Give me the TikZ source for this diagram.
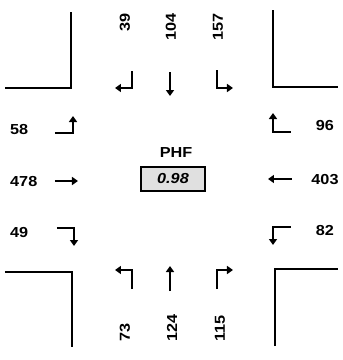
\documentclass[tikz,border=0pt]{standalone}
\usepackage{fontspec}
\setmainfont{Liberation Sans}[FakeStretch=1.12]
\usetikzlibrary{arrows.meta}
\begin{document}
\begin{tikzpicture}[x=1pt,y=-1pt,
  num/.style={font=\fontsize{14.5}{16}\selectfont\bfseries, inner sep=0pt},
  mv/.style={line width=2.2pt, -{Triangle[length=6pt,width=8pt]}},
  curb/.style={line width=2.6pt},
  phfbox/.style={draw, line width=1.4pt, fill=black!12, minimum width=64pt, minimum height=24pt, inner sep=0pt}]
\useasboundingbox (0,0) rectangle (343,360);
% corners
\draw[curb] (71,12) -- (71,88) -- (5,88);
\draw[curb] (273,10) -- (273,87) -- (338,87);
\draw[curb] (5,272) -- (72,272) -- (72,347);
\draw[curb] (275,346) -- (275,269) -- (338,269);
% southbound (top)
\node[num, rotate=90, anchor=east] (sl) at (125,13) {39};
\node[num, rotate=90, anchor=east] (st) at (171,13) {104};
\node[num, rotate=90, anchor=east] (sr) at (218,13) {157};
\draw[mv] (132,71) -- (132,88) -- (115,88);
\draw[mv] (170,72) -- (170,96);
\draw[mv] (217,70) -- (217,88) -- (233,88);
% northbound (bottom)
\node[num, rotate=90, anchor=west] (nl) at (125,342) {73};
\node[num, rotate=90, anchor=west] (nt) at (172,342) {124};
\node[num, rotate=90, anchor=west] (nr) at (220,342) {115};
\draw[mv] (132,289) -- (132,270) -- (115,270);
\draw[mv] (170,291) -- (170,266);
\draw[mv] (217,289) -- (217,270) -- (233,270);
% eastbound (left)
\node[num, anchor=west] (el) at (10,130) {58};
\node[num, anchor=west] (et) at (10,181.5) {478};
\node[num, anchor=west] (er) at (10,233) {49};
\draw[mv] (55,133) -- (73,133) -- (73,116);
\draw[mv] (55,181) -- (78,181);
\draw[mv] (57,228) -- (74,228) -- (74,246);
% westbound (right)
\node[num] (wl) at (325,126) {96};
\node[num] (wt) at (325,180) {403};
\node[num] (wr) at (325,231) {82};
\draw[mv] (291,132) -- (273,132) -- (273,113);
\draw[mv] (292,179) -- (268,179);
\draw[mv] (291,227) -- (273,227) -- (273,245);
% PHF
\node[num] (phf) at (176,153) {PHF};
\node[phfbox, font=\fontsize{14.5}{16}\selectfont\bfseries\itshape] (phfv) at (173,179) {0.98};
\end{tikzpicture}
\end{document}
